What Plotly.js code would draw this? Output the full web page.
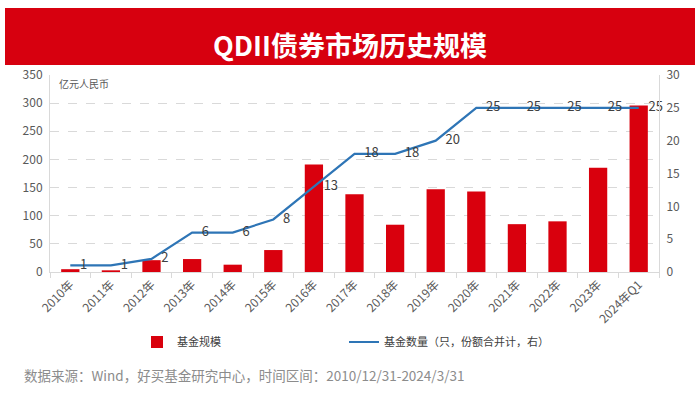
<!DOCTYPE html>
<html>
<head>
<meta charset="utf-8">
<script src="https://cdn.plot.ly/plotly-3.0.1.min.js"></script>
<style>html,body{margin:0;padding:0;background:#fff;}#chart{width:700px;height:398px;}</style>
</head>
<body>
<div id="chart"></div>
<script>
const categories = ["2010年","2011年","2012年","2013年","2014年","2015年","2016年","2017年","2018年","2019年","2020年","2021年","2022年","2023年","2024年Q1"];
const fundScale = [5, 3, 21, 23, 13, 39, 191, 138, 84, 147, 143, 85, 90, 185, 296];
const fundCount = [1, 1, 2, 6, 6, 8, 13, 18, 18, 20, 25, 25, 25, 25, 25];
const leftTicks = [0, 50, 100, 150, 200, 250, 300, 350];
const rightTicks = [0, 5, 10, 15, 20, 25, 30];

const FONT = '"Noto Sans CJK SC", "Noto Sans", sans-serif';
const L = 50, R = 659, T = 75, B = 272;
const W = R - L, H = B - T;
const px = x => (x - L) / W;
const py = y => (B - y) / H;

const traces = [
  {
    type: 'bar', name: '基金规模', x: categories, y: fundScale,
    marker: {color: '#d9000d'}, yaxis: 'y', hoverinfo: 'none'
  },
  {
    type: 'scatter', mode: 'lines+markers+text', name: '基金数量（只，份额合并计，右）',
    x: categories, y: fundCount, yaxis: 'y2', cliponaxis: false,
    line: {color: '#2e75b6', width: 2.2},
    marker: {size: 14, color: 'rgba(0,0,0,0)', line: {width: 0}},
    text: fundCount.map(String), textposition: 'middle right',
    textfont: {family: FONT, size: 13, color: '#404040'}, hoverinfo: 'none'
  }
];

const layout = {
  width: 700, height: 398,
  margin: {l: L, r: 700 - R, t: T, b: 398 - B},
  paper_bgcolor: '#ffffff', plot_bgcolor: '#ffffff',
  font: {family: FONT, color: '#595959', size: 12},
  showlegend: true,
  bargap: 0.55,
  xaxis: {
    type: 'category', tickangle: -45, range: [-0.5, categories.length - 0.5], autorange: false,
    showline: true, linecolor: '#d9d9d9', linewidth: 1,
    ticks: 'outside', tickson: 'boundaries', ticklen: 5, tickcolor: '#d9d9d9',
    tickfont: {family: FONT, size: 12, color: '#595959'},
    showgrid: false, zeroline: false, fixedrange: true
  },
  yaxis: {
    range: [0, 350], autorange: false, tickvals: leftTicks, ticktext: leftTicks.map(String),
    showgrid: true, gridcolor: '#d9d9d9', griddash: 'dash', gridwidth: 1,
    showline: true, linecolor: '#d9d9d9', zeroline: false,
    tickfont: {family: FONT, size: 12, color: '#595959'}, ticks: '', ticklabelstandoff: 4
  },
  yaxis2: {
    range: [0, 30], autorange: false, tickvals: rightTicks, ticktext: rightTicks.map(String),
    overlaying: 'y', side: 'right', showgrid: false,
    showline: true, linecolor: '#d9d9d9', zeroline: false,
    tickfont: {family: FONT, size: 12, color: '#595959'}, ticks: '', ticklabelstandoff: 4
  },
  legend: {
    orientation: 'h', x: px(137), xanchor: 'left', y: py(342), yanchor: 'middle',
    entrywidth: 162, entrywidthmode: 'pixels',
    font: {family: FONT, size: 11, color: '#404040'}, bgcolor: 'rgba(0,0,0,0)'
  },
  shapes: [
    {type: 'rect', xref: 'paper', yref: 'paper', x0: px(5), x1: px(695), y0: py(65), y1: py(8),
     fillcolor: '#d7000f', line: {width: 0}, layer: 'above'}
  ],
  annotations: [
    {xref: 'paper', yref: 'paper', x: px(350), y: py(44), xanchor: 'center', yanchor: 'middle',
     text: '<b>QDII债券市场历史规模</b>', showarrow: false,
     font: {family: FONT, size: 27, color: '#ffffff'}},
    {xref: 'paper', yref: 'paper', x: px(57), y: py(83), xanchor: 'left', yanchor: 'middle',
     text: '亿元人民币', showarrow: false, font: {family: FONT, size: 10, color: '#595959'}},
    {xref: 'paper', yref: 'paper', x: px(22), y: py(375), xanchor: 'left', yanchor: 'middle',
     text: '数据来源：Wind，好买基金研究中心，时间区间：2010/12/31-2024/3/31', showarrow: false,
     font: {family: FONT, size: 13.5, color: '#8c8c8c'}}
  ]
};

Plotly.newPlot('chart', traces, layout, {displayModeBar: false, staticPlot: true});
</script>
</body>
</html>
